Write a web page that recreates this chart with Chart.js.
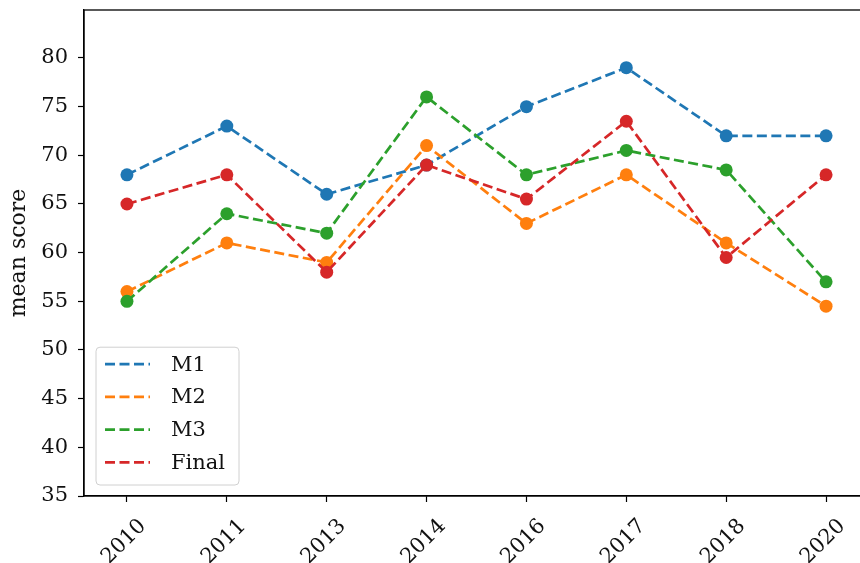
<!DOCTYPE html>
<html>
<head>
<meta charset="utf-8">
<script src="https://cdn.jsdelivr.net/npm/chart.js@4.4.1/dist/chart.umd.min.js"></script>
<style>
  html, body { margin: 0; padding: 0; background: #fff; overflow: hidden; }
  #wrap { width: 880px; height: 563px; }
</style>
</head>
<body>
<div id="wrap"><canvas id="chart" width="880" height="563"></canvas></div>
<script>
// ── Data ───────────────────────────────────────────────────
const categories = ['2010', '2011', '2013', '2014', '2016', '2017', '2018', '2020'];
const m1 = [68, 73, 66, 69, 75, 79, 72, 72];
const m2 = [56, 61, 59, 71, 63, 68, 61, 54.5];
const m3 = [55, 64, 62, 76, 68, 70.5, 68.5, 57];
const finalScore = [65, 68, 58, 69, 65.5, 73.5, 59.5, 68];
const yTicks = [35, 40, 45, 50, 55, 60, 65, 70, 75, 80];

const FONT = "'DejaVu Serif', serif";
const COLORS = ['#1f77b4', '#ff7f0e', '#2ca02c', '#d62728'];

function series(label, values, color, order) {
  return {
    label,
    data: values.map((v, i) => ({ x: i, y: v })),
    borderColor: color,
    backgroundColor: color,
    borderWidth: 2.7,
    borderDash: [10, 4.5],
    pointRadius: 6.5,
    pointHoverRadius: 6.5,
    pointBorderWidth: 0,
    pointBackgroundColor: color,
    tension: 0,
    order,
  };
}

// matplotlib-style box around the plot
const framePlugin = {
  id: 'frame',
  afterDraw(chart) {
    const { ctx, chartArea: a } = chart;
    ctx.save();
    ctx.strokeStyle = '#000';
    ctx.lineWidth = 1.3;
    ctx.strokeRect(a.left, a.top, a.right - a.left, a.bottom - a.top);
    ctx.restore();
  },
};

// legend in the lower-left corner of the plot
const innerLegend = {
  id: 'innerLegend',
  afterDraw(chart) {
    const { ctx, chartArea: a } = chart;
    const sets = chart.data.datasets;
    const rowH = 32.7;
    const w = 143, h = sets.length * rowH + 7;
    const x = a.left + 12, y = a.bottom - 11 - h;
    ctx.save();
    ctx.beginPath();
    ctx.roundRect(x, y, w, h, 4);
    ctx.fillStyle = 'rgba(255,255,255,0.8)';
    ctx.fill();
    ctx.strokeStyle = '#d0d0d0';
    ctx.lineWidth = 1;
    ctx.stroke();
    ctx.font = '21px ' + FONT;
    ctx.textBaseline = 'middle';
    sets.forEach((ds, i) => {
      const ry = y + 17 + i * rowH;
      ctx.strokeStyle = ds.borderColor;
      ctx.lineWidth = 2.7;
      ctx.setLineDash([10, 4.5]);
      ctx.beginPath();
      ctx.moveTo(x + 9, ry);
      ctx.lineTo(x + 54, ry);
      ctx.stroke();
      ctx.setLineDash([]);
      ctx.fillStyle = '#111';
      ctx.fillText(ds.label, x + 75, ry + 1);
    });
    ctx.restore();
  },
};

new Chart(document.getElementById('chart'), {
  type: 'line',
  data: {
    datasets: [
      series('M1', m1, COLORS[0], 4),
      series('M2', m2, COLORS[1], 3),
      series('M3', m3, COLORS[2], 2),
      series('Final', finalScore, COLORS[3], 1),
    ],
  },
  options: {
    responsive: false,
    animation: false,
    devicePixelRatio: 1,
    layout: { padding: { top: 10, right: 11, left: 0, bottom: 0 } },
    plugins: {
      legend: { display: false },
      tooltip: { enabled: false },
    },
    scales: {
      x: {
        type: 'linear',
        min: -0.43,
        max: 7.43,
        afterBuildTicks: s => { s.ticks = categories.map((_, i) => ({ value: i })); },
        afterFit: s => { s.height = 67; s.paddingLeft = 0; s.paddingRight = 0; },
        ticks: {
          callback: v => categories[v],
          color: '#111',
          font: { family: FONT, size: 21 },
          minRotation: 45,
          maxRotation: 45,
          padding: 12,
          labelOffset: 16,
        },
        grid: {
          drawOnChartArea: false,
          drawTicks: true,
          tickLength: 6,
          tickColor: '#000',
          tickWidth: 1.2,
        },
        border: { display: true, color: '#000', width: 1.3 },
      },
      y: {
        min: 35,
        max: 84.93,
        afterBuildTicks: s => { s.ticks = yTicks.map(v => ({ value: v })); },
        afterFit: s => { s.width = 84; s.paddingTop = 0; s.paddingBottom = 0; },
        ticks: {
          color: '#111',
          font: { family: FONT, size: 21 },
          padding: 10,
        },
        grid: {
          drawOnChartArea: false,
          drawTicks: true,
          tickLength: 6,
          tickColor: '#000',
          tickWidth: 1.2,
        },
        border: { display: true, color: '#000', width: 1.3 },
        title: {
          display: true,
          text: 'mean score',
          color: '#111',
          font: { family: FONT, size: 22 },
          padding: { top: 6, bottom: 0 },
        },
      },
    },
  },
  plugins: [framePlugin, innerLegend],
});
</script>
</body>
</html>
